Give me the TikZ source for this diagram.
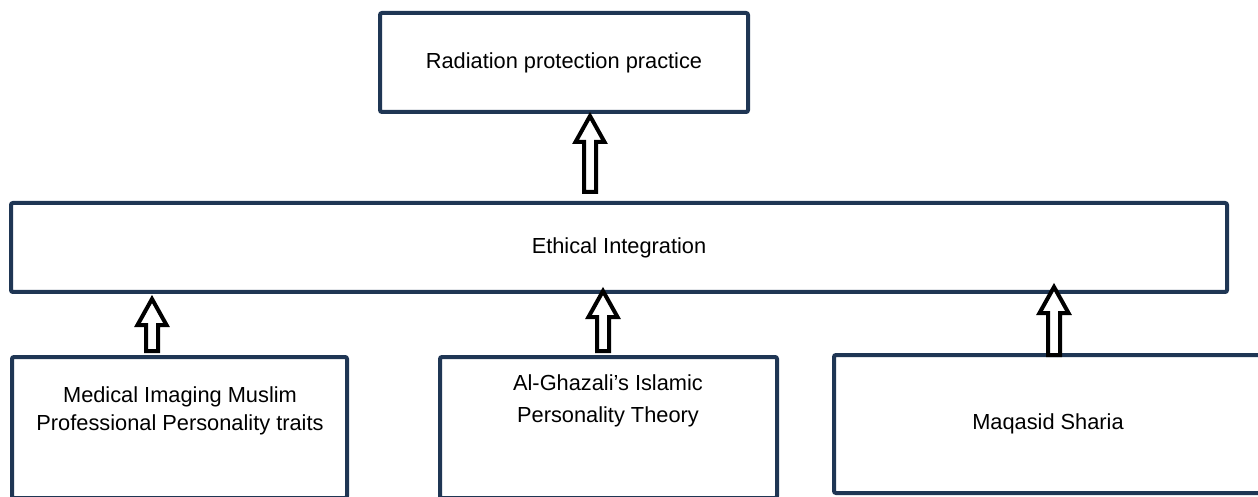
\documentclass[tikz,border=0pt]{standalone}
\usepackage{fontspec}
\setmainfont{Liberation Sans}
\usetikzlibrary{calc}
\definecolor{boxblue}{RGB}{31,54,84}
\tikzset{
	box/.style={draw=boxblue, line width=2pt, fill=white, rounded corners=1pt, inner sep=0pt, outer sep=0pt, align=center, font=\fontsize{10.9}{14}\selectfont},
	boxtext/.style={align=center, inner sep=0pt},
	hollow/.style={draw=black, line width=2pt, fill=white, miter limit=10}
}
\newcommand{\hollowup}[2]{%
	\draw[hollow] let \p1=(#1), \p2=(#2) in
		(\x1-3pt,\y1) -- (\x1-3pt,\y2-13pt) -- (\x1-7.25pt,\y2-13pt) -- (\x1,\y2)
		-- (\x1+7.25pt,\y2-13pt) -- (\x1+3pt,\y2-13pt) -- (\x1+3pt,\y1) -- cycle;}
\begin{document}
\begin{tikzpicture}[x=0.5pt, y=-0.5pt]
			\useasboundingbox (0,0) rectangle (1258,497);
			
			\node[box, minimum width=184pt, minimum height=49.5pt] (radiation) at (564, 62.5)  {Radiation protection practice};
			\node[box, minimum width=608pt, minimum height=44.5pt] (ethic)     at (619, 247.5) {Ethical Integration};
			\node[box, minimum width=167.5pt, minimum height=70.5pt] (medical) at (179.5, 427.5) {};
			\node[box, minimum width=168.5pt, minimum height=70.5pt] (theory)  at (608.5, 427.5) {};
			\node[box, minimum width=214pt, minimum height=69pt]   (maqasid)  at (1048, 424)   {Maqasid Sharia};
			
			\node[boxtext, font=\fontsize{10.9}{14}\selectfont] (medicaltext) at (180, 411) {Medical Imaging Muslim\\Professional Personality traits};
			\node[boxtext, font=\fontsize{10.9}{16}\selectfont] (theorytext)  at (608, 401) {Al-Ghazali’s Islamic\\Personality Theory};
			
			\coordinate (coltop) at (590, 0);
			\coordinate (cola)   at (152, 0);
			\coordinate (colb)   at (603, 0);
			\coordinate (colc)   at (1054, 0);
			
			\hollowup{$(ethic.north -| coltop)+(0,-11)$}{$(radiation.south -| coltop)+(0,4)$}
			\hollowup{$(medical.north -| cola)+(0,-6)$}{$(ethic.south -| cola)+(0,7)$}
			\hollowup{$(theory.north -| colb)+(0,-6)$}{$(ethic.south -| colb)+(0,-1)$}
			\hollowup{$(maqasid.north -| colc)+(0,0)$}{$(ethic.south -| colc)+(0,-5)$}
		\end{tikzpicture}
\end{document}
